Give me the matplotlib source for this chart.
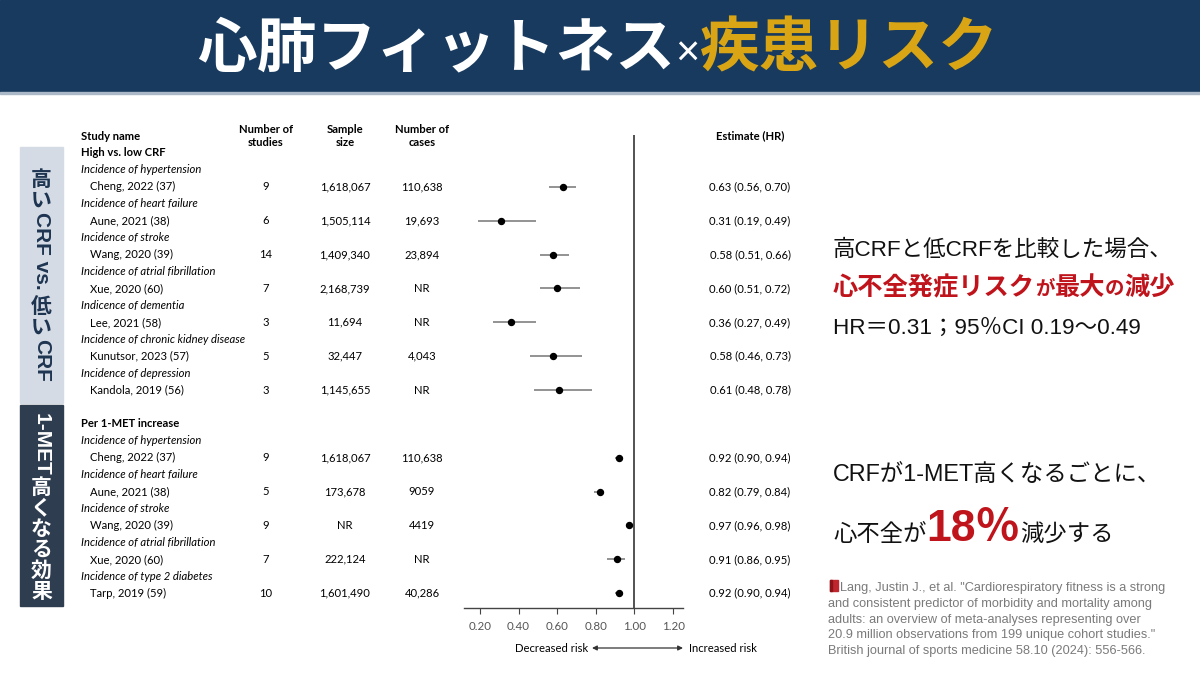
import matplotlib
matplotlib.use("Agg")
import matplotlib.pyplot as plt
from matplotlib.patches import Rectangle
from matplotlib.transforms import blended_transform_factory

# ---- data -------------------------------------------------------------
groups = ["High vs. low CRF", "Per 1-MET increase"]

outcomes1 = ["Incidence of hypertension", "Incidence of heart failure",
             "Incidence of stroke", "Incidence of atrial fibrillation",
             "Indicence of dementia", "Incidence of chronic kidney disease",
             "Incidence of depression"]
studies1 = ["Cheng, 2022 (37)", "Aune, 2021 (38)", "Wang, 2020 (39)",
            "Xue, 2020 (60)", "Lee, 2021 (58)", "Kunutsor, 2023 (57)",
            "Kandola, 2019 (56)"]
nstud1 = [9, 6, 14, 7, 3, 5, 3]
sample1 = ["1,618,067", "1,505,114", "1,409,340", "2,168,739", "11,694",
           "32,447", "1,145,655"]
cases1 = ["110,638", "19,693", "23,894", "NR", "NR", "4,043", "NR"]
hr1 = [0.63, 0.31, 0.58, 0.60, 0.36, 0.58, 0.61]
lo1 = [0.56, 0.19, 0.51, 0.51, 0.27, 0.46, 0.48]
hi1 = [0.70, 0.49, 0.66, 0.72, 0.49, 0.73, 0.78]

outcomes2 = ["Incidence of hypertension", "Incidence of heart failure",
             "Incidence of stroke", "Incidence of atrial fibrillation",
             "Incidence of type 2 diabetes"]
studies2 = ["Cheng, 2022 (37)", "Aune, 2021 (38)", "Wang, 2020 (39)",
            "Xue, 2020 (60)", "Tarp, 2019 (59)"]
nstud2 = [9, 5, 9, 7, 10]
sample2 = ["1,618,067", "173,678", "NR", "222,124", "1,601,490"]
cases2 = ["110,638", "9059", "4419", "NR", "40,286"]
hr2 = [0.92, 0.82, 0.97, 0.91, 0.92]
lo2 = [0.90, 0.79, 0.96, 0.86, 0.90]
hi2 = [0.94, 0.84, 0.98, 0.95, 0.94]

xticks = [0.20, 0.40, 0.60, 0.80, 1.00, 1.20]

title_white = "心肺フィットネス"
title_times = "×"
title_gold = "疾患リスク"
side1 = "高いCRF vs. 低いCRF"
side2 = "1-MET高くなる効果"
citation = ['Lang, Justin J., et al. "Cardiorespiratory fitness is a strong',
            'and consistent predictor of morbidity and mortality among',
            'adults: an overview of meta-analyses representing over',
            '20.9 million observations from 199 unique cohort studies."',
            'British journal of sports medicine 58.10 (2024): 556-566.']

NAVY = "#173a5e"
GOLD = "#d9a514"
RED = "#c0141c"
TAB = "Lato"
JP = ["Liberation Sans", "Noto Sans CJK JP"]
JPB = ["Noto Sans CJK JP", "DejaVu Sans"]

fig = plt.figure(figsize=(12, 6.75), dpi=100)
fig.patch.set_facecolor("white")

# overlay axes in pixel coords
ax0 = fig.add_axes([0, 0, 1, 1])
ax0.set_xlim(0, 1200)
ax0.set_ylim(675, 0)
ax0.axis("off")
renderer = fig.canvas.get_renderer()


def width_px(t):
    return t.get_window_extent(renderer=renderer).width


def run_text(x, y, pieces, center=False):
    # pieces: list of (text, kwargs) drawn one after another on a baseline
    objs = []
    cx = x
    for s, kw in pieces:
        t = ax0.text(cx, y, s, ha="left", va="baseline", **kw)
        w = width_px(t)
        objs.append(t)
        cx += w
    if center:
        total = cx - x
        shift = total / 2
        for t in objs:
            t.set_x(t.get_position()[0] - shift)
    return objs


def vertical_text(xc, yc, s, size, color):
    runs = []
    for ch in s:
        cjk = ord(ch) > 0x2E80
        if runs and runs[-1][1] == cjk and not cjk:
            runs[-1][0] += ch
        else:
            runs.append([ch, cjk])
    items = []
    em = size * 100 / 72
    for run, cjk in runs:
        if cjk:
            t = ax0.text(xc, 0, run, ha="center", va="center", fontsize=size,
                         color=color, fontweight="bold", family=JPB)
            items.append((t, em * 1.0))
        else:
            t = ax0.text(xc, 0, run, ha="center", va="center", fontsize=size,
                         color=color, fontweight="bold", family=JP, rotation=-90)
            h = t.get_window_extent(renderer=renderer).height
            items.append((t, h + 2))
    total = sum(a for _, a in items)
    y = yc - total / 2
    for t, adv in items:
        t.set_y(y + adv / 2)
        y += adv


# header band
ax0.add_patch(Rectangle((0, 0), 1200, 92, color=NAVY, zorder=0))
ax0.add_patch(Rectangle((0, 92), 1200, 2, color="#aab8c8", zorder=0))
run_text(598, 66, [(title_white, dict(fontsize=43, color="white", fontweight="bold", family=JPB)),
                   (title_times, dict(fontsize=30, color="white", family=JP)),
                   (title_gold, dict(fontsize=43, color=GOLD, fontweight="bold", family=JPB))],
         center=True)

# side boxes
ax0.add_patch(Rectangle((20, 147), 43, 256, color="#d5dbe5", zorder=0))
ax0.add_patch(Rectangle((20, 405), 43, 201, color="#2e3d50", zorder=0))
vertical_text(41.5, 276, side1, 15, "#1e3552")
vertical_text(41.5, 507, side2, 15, "white")

# ---- forest plot -------------------------------------------------------
row_px0, row_step = 153, 16.93
top_px, bot_px, left_px, right_px = 135, 608, 464, 683
ylim_top = (top_px - row_px0) / row_step
ylim_bot = (bot_px - row_px0) / row_step
ax = fig.add_axes([left_px / 1200, (675 - bot_px) / 675,
                   (right_px - left_px) / 1200, (bot_px - top_px) / 675])
ax.patch.set_visible(False)
ax.set_xlim(0.1174, 1.2516)
ax.set_ylim(ylim_bot, ylim_top)
for sp in ["left", "right", "top"]:
    ax.spines[sp].set_visible(False)
ax.spines["bottom"].set_color("#444444")
ax.spines["bottom"].set_linewidth(1.0)
ax.set_yticks([])
ax.set_xticks(xticks)
ax.set_xticklabels(["%.2f" % v for v in xticks])
ax.tick_params(axis="x", direction="out", length=4, color="#444444",
               labelsize=8.3, labelcolor="#555555", pad=5)
for lab in ax.get_xticklabels():
    lab.set_family(TAB)
ax.axvline(1.0, color="#444444", lw=1.3)

tr = blended_transform_factory(ax0.transData, ax.transData)
fs = 8.1

ax0.text(81, 136, "Study name", transform=ax0.transData, fontsize=fs, family=TAB,
         fontweight="bold", va="center")
for xc, lab in [(266, "Number of\nstudies"), (345, "Sample\nsize"), (422, "Number of\ncases")]:
    ax0.text(xc, 136, lab, fontsize=fs, family=TAB, fontweight="bold",
             ha="center", va="center", linespacing=1.3)
ax0.text(750, 136, "Estimate (HR)", fontsize=fs, family=TAB, fontweight="bold",
         ha="center", va="center")

sections = [(0, outcomes1, studies1, nstud1, sample1, cases1, hr1, lo1, hi1),
            (16, outcomes2, studies2, nstud2, sample2, cases2, hr2, lo2, hi2)]
for g, (start, outs, studs, ns, samp, cas, hr, lo, hi) in enumerate(sections):
    ax0.text(81, start, groups[g], transform=tr, fontsize=fs, family=TAB,
             fontweight="bold", va="center")
    for k in range(len(outs)):
        r_out = start + 1 + 2 * k
        r = start + 2 + 2 * k
        ax0.text(81, r_out, outs[k], transform=tr, fontsize=fs, family=TAB,
                 style="italic", va="center")
        ax0.text(90, r, studs[k], transform=tr, fontsize=fs, family=TAB, va="center")
        ax0.text(266, r, str(ns[k]), transform=tr, fontsize=fs, family=TAB,
                 va="center", ha="center")
        ax0.text(345, r, samp[k], transform=tr, fontsize=fs, family=TAB,
                 va="center", ha="center")
        ax0.text(422, r, cas[k], transform=tr, fontsize=fs, family=TAB,
                 va="center", ha="center")
        ax0.text(750, r, "%.2f (%.2f, %.2f)" % (hr[k], lo[k], hi[k]), transform=tr,
                 fontsize=fs, family=TAB, va="center", ha="center")
        ax.plot([lo[k], hi[k]], [r, r], color="#8a8a8a", lw=1.3, solid_capstyle="butt")
        ax.plot(hr[k], r, "o", color="black", ms=4.3)

# risk direction
ax0.text(588, 648, "Decreased risk", fontsize=fs, family=TAB, ha="right", va="center")
ax0.text(689, 648, "Increased risk", fontsize=fs, family=TAB, ha="left", va="center")
ax0.annotate("", xy=(683, 648), xytext=(592, 648),
             arrowprops=dict(arrowstyle="<|-|>", color="#333333", lw=0.9,
                             mutation_scale=7, shrinkA=0, shrinkB=0))

# ---- right-hand notes --------------------------------------------------
norm = dict(fontsize=16.2, color="#111111", family=JP)
run_text(833, 256, [("高CRFと低CRFを比較した場合、", norm)])
redb = dict(fontsize=18.2, color=RED, fontweight="bold", family=JPB)
reds = dict(fontsize=14, color=RED, fontweight="bold", family=JPB)
run_text(833, 295, [("心不全発症リスク", redb), ("が", reds), ("最大", redb),
                    ("の", reds), ("減少", redb)])
run_text(833, 334, [("HR＝0.31；95％CI 0.19〜0.49", norm)])
norm2 = dict(fontsize=16.8, color="#111111", family=JP)
run_text(833, 481, [("CRFが1-MET高くなるごとに、", norm2)])
run_text(833, 541, [("心不全が", norm2),
                    ("18％", dict(fontsize=32, color=RED, fontweight="bold", family=JP)),
                    ("減少する", norm2)])

# citation
ax0.add_patch(Rectangle((830, 580), 8, 11, color="#c0262d", zorder=2))
ax0.add_patch(Rectangle((830, 580), 2, 11, color="#8a1218", zorder=3))
for i, line in enumerate(citation):
    x = 840 if i == 0 else 828
    ax0.text(x, 591 + i * 15.8, line, fontsize=9.2, color="#7a7a7a",
             family="Liberation Sans", va="baseline")

fig.savefig("out.png", dpi=100)
